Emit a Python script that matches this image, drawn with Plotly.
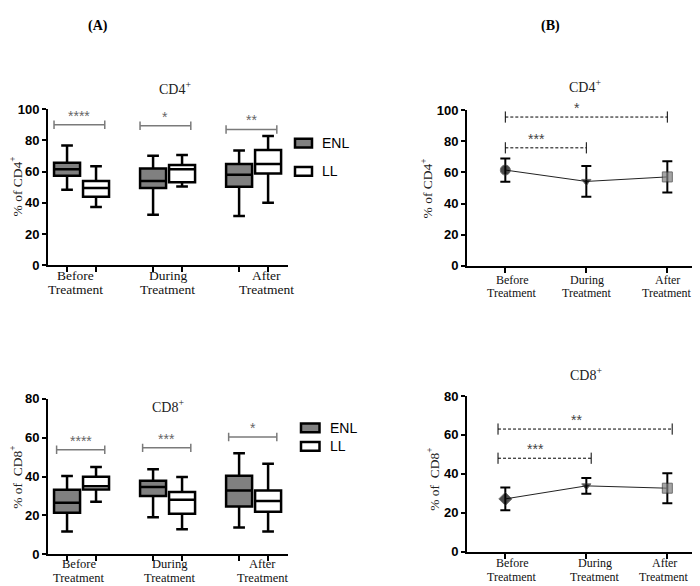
import plotly.graph_objects as go

# ---------------- data ----------------
categories = ["Before<br>Treatment", "During<br>Treatment", "After<br>Treatment"]
groups = ["ENL", "LL"]

# Panel A (box plots): lower whisker, Q1, median, Q3, upper whisker
cd4_enl_low = [48.3, 32.3, 31.5]
cd4_enl_q1 = [57.3, 49.5, 50.2]
cd4_enl_med = [61.5, 54.0, 57.9]
cd4_enl_q3 = [65.6, 62.0, 64.8]
cd4_enl_high = [76.7, 70.2, 73.5]

cd4_ll_low = [37.3, 50.4, 40.0]
cd4_ll_q1 = [43.8, 53.1, 58.8]
cd4_ll_med = [49.4, 61.5, 64.8]
cd4_ll_q3 = [54.0, 64.2, 73.8]
cd4_ll_high = [63.5, 70.6, 82.9]

cd8_enl_low = [11.8, 19.1, 13.8]
cd8_enl_q1 = [21.4, 30.0, 24.6]
cd8_enl_med = [26.6, 34.6, 32.9]
cd8_enl_q3 = [33.3, 37.9, 40.4]
cd8_enl_high = [40.3, 43.8, 52.0]

cd8_ll_low = [27.0, 12.9, 11.8]
cd8_ll_q1 = [33.4, 20.9, 21.9]
cd8_ll_med = [35.0, 28.1, 27.4]
cd8_ll_q3 = [39.9, 32.1, 32.9]
cd8_ll_high = [45.0, 39.8, 46.6]

# Panel A significance
sigA_cd4_y = [90.0, 89.4, 87.0]
sigA_cd4_txt = ["****", "*", "**"]
sigA_cd8_y = [53.8, 54.8, 60.4]
sigA_cd8_txt = ["****", "***", "*"]

# Panel B (mean +/- SD)
cd4_mean = [61.5, 54.2, 57.1]
cd4_sd = [7.5, 9.9, 10.0]
cd8_mean = [27.1, 33.8, 32.6]
cd8_sd = [5.9, 4.0, 7.7]

# Panel B significance: (from, to), y, label
sigB_cd4_pairs = [(0, 2), (0, 1)]
sigB_cd4_y = [95.6, 75.8]
sigB_cd4_txt = ["*", "***"]
sigB_cd8_pairs = [(0, 2), (0, 1)]
sigB_cd8_y = [63.0, 48.0]
sigB_cd8_txt = ["**", "***"]

# ---------------- helpers ----------------
W, H = 700, 586
def px(x):
    return x / W
def py(y):
    return 1 - y / H

SERIF = "Liberation Serif"
SANS = "Liberation Sans"
idx = list(range(len(categories)))
BOXGAP, BOXGROUPGAP = 0.326, 0.103
slot = (1 - BOXGAP) / 2
box_centers = sorted([i - slot / 2 for i in idx] + [i + slot / 2 for i in idx])

fig = go.Figure()

def add_boxes(xa, ya, stats_enl, stats_ll):
    for g, st, fill in [("ENL", stats_enl, "#808080"), ("LL", stats_ll, "white")]:
        low, q1, med, q3, high = st
        fig.add_trace(go.Box(
            x=idx, lowerfence=low, q1=q1, median=med, q3=q3, upperfence=high,
            name=g, offsetgroup=g, fillcolor=fill,
            line=dict(color="black", width=2.5), whiskerwidth=0.45,
            boxpoints=False, showlegend=False, hoverinfo="skip",
            xaxis=xa, yaxis=ya))

add_boxes("x", "y",
          (cd4_enl_low, cd4_enl_q1, cd4_enl_med, cd4_enl_q3, cd4_enl_high),
          (cd4_ll_low, cd4_ll_q1, cd4_ll_med, cd4_ll_q3, cd4_ll_high))
add_boxes("x3", "y3",
          (cd8_enl_low, cd8_enl_q1, cd8_enl_med, cd8_enl_q3, cd8_enl_high),
          (cd8_ll_low, cd8_ll_q1, cd8_ll_med, cd8_ll_q3, cd8_ll_high))

annotations = []

def sig_A(xa, ya, ys, txts, lo_off, hi_off):
    for i, (y, t) in enumerate(zip(ys, txts)):
        fig.add_trace(go.Scatter(
            x=[i + lo_off, i + hi_off], y=[y, y], mode="lines+markers",
            line=dict(color="#7a7a7a", width=1.5),
            marker=dict(symbol="line-ns", size=6, line=dict(color="#7a7a7a", width=1.5)),
            showlegend=False, hoverinfo="skip", xaxis=xa, yaxis=ya))
        annotations.append(dict(x=i + (lo_off + hi_off) / 2, y=y, xref=xa, yref=ya,
                                text=t, showarrow=False, yanchor="middle", yshift=9,
                                font=dict(family=SANS, size=14, color="#666")))

sig_A("x", "y", sigA_cd4_y, sigA_cd4_txt, -0.32, 0.27)
sig_A("x3", "y3", sigA_cd8_y, sigA_cd8_txt, -0.29, 0.27)

def add_means(xa, ya, mean, sd, symbols, colors):
    fig.add_trace(go.Scatter(
        x=idx, y=mean, mode="lines+markers",
        line=dict(color="#222", width=1),
        marker=dict(symbol=symbols, size=[10, 8, 10], color=colors,
                    line=dict(color="#333", width=1)),
        error_y=dict(type="data", array=sd, color="black", thickness=2, width=5),
        showlegend=False, hoverinfo="skip", xaxis=xa, yaxis=ya))

add_means("x2", "y2", cd4_mean, cd4_sd, ["circle", "triangle-down", "square"],
          ["black", "black", "#7f7f7f"])
add_means("x4", "y4", cd8_mean, cd8_sd, ["diamond", "triangle-down", "square"],
          ["black", "black", "#7f7f7f"])

def sig_B(xa, ya, pairs, ys, txts, lo_ext=0.0, hi_ext=0.0):
    for (a, b), y, t in zip(pairs, ys, txts):
        x0, x1 = a - lo_ext, b + hi_ext
        fig.add_trace(go.Scatter(
            x=[x0, x1], y=[y, y], mode="lines+markers",
            line=dict(color="black", width=1, dash="3px,2px"),
            marker=dict(symbol="line-ns", size=8, line=dict(color="black", width=1)),
            showlegend=False, hoverinfo="skip", xaxis=xa, yaxis=ya))
        annotations.append(dict(x=(x0 + x1) / 2, y=y, xref=xa, yref=ya, text=t,
                                showarrow=False, yanchor="middle", yshift=9, xshift=-9,
                                font=dict(family=SANS, size=14, color="#444")))

sig_B("x2", "y2", sigB_cd4_pairs, sigB_cd4_y, sigB_cd4_txt)
sig_B("x4", "y4", sigB_cd8_pairs, sigB_cd8_y, sigB_cd8_txt, 0.09, 0.06)

# ---------------- axes ----------------
def yax(domain, anchor, rng):
    return dict(domain=domain, anchor=anchor, range=rng, dtick=20, tick0=0,
                showline=True, linecolor="black", linewidth=2, showgrid=False,
                zeroline=False, ticks="outside", ticklen=4, tickwidth=2, tickcolor="black",
                tickfont=dict(family=SANS, size=13, color="black", weight="bold"))

def xaxA(domain, anchor):
    return dict(domain=domain, anchor=anchor, range=[-0.39, 2.40], showline=True,
                linecolor="black", linewidth=2, showgrid=False, zeroline=False,
                tickvals=[], showticklabels=False, ticks="",
                minor=dict(tickmode="array", tickvals=box_centers, ticks="outside",
                           ticklen=5, tickwidth=2, tickcolor="black", showgrid=False))

def xaxB(domain, anchor):
    return dict(domain=domain, anchor=anchor, range=[-0.473, 2.502], showline=True,
                linecolor="black", linewidth=2, showgrid=False, zeroline=False,
                tickvals=idx, showticklabels=False, ticks="outside", ticklen=5,
                tickwidth=2, tickcolor="black")

fig.update_layout(
    xaxis=xaxA([px(40), px(280)], "y"),
    yaxis=yax([py(256.7), py(96.7)], "x", [0, 100]),
    xaxis2=xaxB([px(459), 1.0], "y2"),
    yaxis2=yax([py(257.3), py(97.7)], "x2", [0, 100]),
    xaxis3=xaxA([px(40), px(280)], "y3"),
    yaxis3=yax([py(553.5), py(394)], "x3", [0, 80]),
    xaxis4=xaxB([px(459), 1.0], "y4"),
    yaxis4=yax([py(550.7), py(391)], "x4", [0, 80]),
)

# category labels (each line placed separately for tight line spacing)
def cat_labels(xa, y_line1, spacing, size, shifts):
    for i, c in enumerate(categories):
        for k, line in enumerate(c.split("<br>")):
            annotations.append(dict(x=i, xref=xa, y=py(y_line1 + k * spacing), yref="paper",
                                    text=line, showarrow=False, yanchor="middle",
                                    xshift=shifts[i], borderpad=0,
                                    font=dict(family=SERIF, size=size, color="#111")))

cat_labels("x", 267, 14.7, 13.5, [-6, 0, 13])
cat_labels("x3", 563.5, 14.2, 12.5, [-3, 2, 9])
cat_labels("x2", 271.7, 13.6, 12, [7, 1, 0])
cat_labels("x4", 562.5, 13.8, 12, [7, 9, -3])

# titles, axis titles, panel letters
def txt(x, y, t, size, family=SERIF, angle=0, color="#222"):
    annotations.append(dict(x=px(x), y=py(y), xref="paper", yref="paper", text=t,
                            showarrow=False, textangle=angle, xanchor="center",
                            yanchor="middle", font=dict(family=family, size=size, color=color)))

txt(167, 75, "CD4<sup>+</sup>", 14)
txt(160, 401, "CD8<sup>+</sup>", 14)
txt(577, 73, "CD4<sup>+</sup>", 14)
txt(578, 368, "CD8<sup>+</sup>", 14)
txt(9, 176, "% of CD4<sup>+</sup>", 13.5, angle=-90)
txt(9, 475, "% of  CD8<sup>+</sup>", 13.5, angle=-90)
txt(419, 178, "% of CD4<sup>+</sup>", 13.5, angle=-90)
txt(426, 477, "% of  CD8<sup>+</sup>", 13.5, angle=-90)
txt(90, 11, "<b>(A)</b>", 14, color="black")
txt(542, 11, "<b>(B)</b>", 14, color="black")

# legends (drawn boxes + labels)
shapes = []
def legend(x0, x1, ys, yh):
    for g, fill, yc in zip(groups, ["#808080", "white"], ys):
        shapes.append(dict(type="rect", xref="paper", yref="paper",
                           x0=px(x0), x1=px(x1), y0=py(yc + yh / 2), y1=py(yc - yh / 2),
                           line=dict(color="black", width=2.5), fillcolor=fill))
        annotations.append(dict(x=px(x1 + 8), y=py(yc), xref="paper", yref="paper",
                                text=g, showarrow=False, xanchor="left", yanchor="middle",
                                font=dict(family=SANS, size=14, color="black")))

legend(287, 304, [131.5, 160.5], 9)
legend(293, 311.5, [423.7, 442.8], 9)

fig.update_layout(
    width=W, height=H, autosize=False,
    margin=dict(l=0, r=0, t=0, b=0),
    paper_bgcolor="white", plot_bgcolor="white",
    boxmode="group", boxgap=BOXGAP, boxgroupgap=BOXGROUPGAP,
    annotations=annotations, shapes=shapes, showlegend=False,
)

fig.write_html("out.html")
